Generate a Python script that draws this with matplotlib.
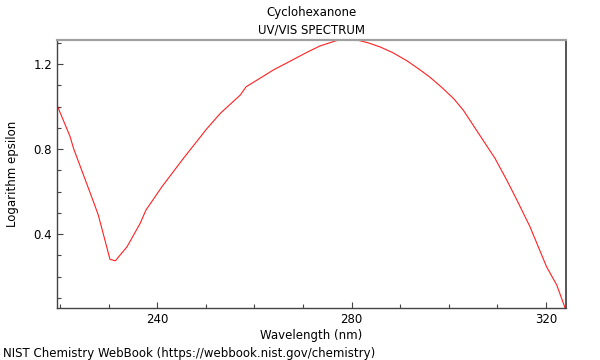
import matplotlib
matplotlib.use("Agg")
import matplotlib.pyplot as plt
from matplotlib.ticker import MultipleLocator

wavelength = [219.4, 222.1, 222.8, 226.9, 227.9, 230.3, 231.4, 233.8, 236.5, 237.7,
              239.2, 241.0, 245.4, 250.2, 253.0, 257.1, 258.3, 260.8, 263.9, 267.5,
              270.8, 273.5, 276.6, 279.0, 281.1, 283.5, 285.9, 288.5, 291.4, 294.1,
              296.0, 298.5, 301.0, 303.0, 306.1, 309.5, 312.0, 314.0, 316.7, 320.1,
              322.2, 323.9]
log_eps = [1.007, 0.858, 0.803, 0.552, 0.489, 0.281, 0.274, 0.340, 0.450, 0.513,
           0.563, 0.623, 0.756, 0.895, 0.968, 1.054, 1.093, 1.128, 1.172, 1.215,
           1.255, 1.285, 1.308, 1.322, 1.313, 1.299, 1.280, 1.253, 1.215, 1.172,
           1.140, 1.091, 1.037, 0.982, 0.874, 0.756, 0.650, 0.560, 0.434, 0.246,
           0.160, 0.053]

title = "Cyclohexanone\nUV/VIS SPECTRUM"
xlabel = "Wavelength (nm)"
ylabel = "Logarithm epsilon"
footer = "NIST Chemistry WebBook (https://webbook.nist.gov/chemistry)"

fig = plt.figure(figsize=(6, 3.6), dpi=100)
ax = fig.add_axes([57/600, 1 - 308/360, (566-57)/600, (308-40)/360])
ax.plot(wavelength, log_eps, color="#ff2020", lw=0.8)
ax.set_xlim(219.4, 324.1)
ax.set_ylim(0.052, 1.313)
ax.xaxis.set_major_locator(MultipleLocator(40))
ax.xaxis.set_minor_locator(MultipleLocator(10))
ax.yaxis.set_major_locator(MultipleLocator(0.4))
ax.yaxis.set_minor_locator(MultipleLocator(0.1))
ax.tick_params(which="both", direction="in", colors="#444444", labelcolor="black", labelsize=8.5)
ax.tick_params(which="major", length=4, width=0.8)
ax.tick_params(which="minor", length=3, width=0.8)
for s in ("left", "bottom"):
    ax.spines[s].set_color("#444444")
    ax.spines[s].set_linewidth(1.0)
ax.spines["top"].set_color("#a0a0a0")
ax.spines["top"].set_linewidth(1.6)
ax.spines["right"].set_color("#555555")
ax.spines["right"].set_linewidth(1.4)
ax.set_title(title, fontsize=8.5, pad=5, linespacing=1.45)
ax.set_xlabel(xlabel, fontsize=8.5, labelpad=2)
ax.set_ylabel(ylabel, fontsize=8.5, labelpad=10)
fig.text(3/600, 1 - 353/360, footer, fontsize=8.5, va="center", ha="left")
fig.savefig("out.png", dpi=100)
